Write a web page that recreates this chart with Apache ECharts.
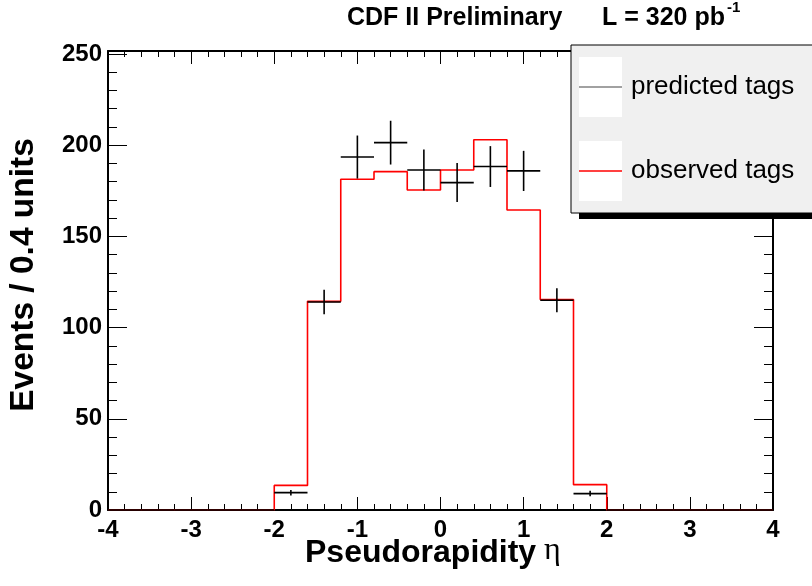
<!DOCTYPE html>
<html><head><meta charset="utf-8">
<script src="https://cdn.jsdelivr.net/npm/echarts@6/dist/echarts.min.js"></script>
<style>html,body{margin:0;padding:0;background:#fff}#c{width:812px;height:586px}</style>
</head><body><div id="c"></div>
<script>
// ---- data ----
const binLow = -4;
const binWidth = 0.4;
const observedTags = [0,0,0,0,0, 13.5,114.4,181.3,185.5,175.4,186.4,203,164.5,115.4,13.9, 0,0,0,0,0];
const predictedTags = [0,0,0,0,0, 9.5,114,193.5,201.4,186.4,179.5,188.3,185.9,115,9, 0,0,0,0,0];
const predictedErr = [0,0,0,0,0, 1.5,6.7,11.8,12,11.2,10.7,11.2,11,6.6,1.5, 0,0,0,0,0];
const xTickLabels = [-4,-3,-2,-1,0,1,2,3,4];
const yTickLabels = [0,50,100,150,200,250];
const legendNames = ['predicted tags','observed tags'];

const FONT = 'Liberation Sans, Arial, sans-serif';

// step outline for observed histogram
const obsLine = [];
observedTags.forEach((v,i)=>{
  const lo = binLow + i*binWidth, hi = lo + binWidth;
  obsLine.push([lo, v]); obsLine.push([hi, v]);
});
const predData = predictedTags.map((v,i)=>[binLow + (i+0.5)*binWidth, v, predictedErr[i]]);

const chart = echarts.init(document.getElementById('c'), null, {renderer:'canvas'});
const frameLine = {show:true, onZero:false, lineStyle:{color:'#000', width:2}};
chart.setOption({
  animation:false,
  backgroundColor:'#fff',
  grid:[
    {left:108, top:51, width:665, height:459, show:false},
    {left:108, top:54, width:665, height:456, show:false}
  ],
  xAxis:[
    {gridIndex:0, type:'value', position:'top', min:xTickLabels[0], max:xTickLabels[xTickLabels.length-1], interval:1,
     axisLine:frameLine, axisLabel:{show:false}, splitLine:{show:false},
     axisTick:{show:true, inside:true, length:13, lineStyle:{color:'#000',width:1}},
     minorTick:{show:true, splitNumber:5, length:6, lineStyle:{color:'#000',width:1}}},
    {gridIndex:1, type:'value', position:'bottom', min:xTickLabels[0], max:xTickLabels[xTickLabels.length-1], interval:1,
     axisLine:frameLine, splitLine:{show:false},
     axisLabel:{show:true, color:'#000', fontFamily:FONT, fontWeight:'bold', fontSize:24, margin:8},
     axisTick:{show:true, inside:true, length:13, lineStyle:{color:'#000',width:1}},
     minorTick:{show:true, splitNumber:5, length:6, lineStyle:{color:'#000',width:1}}}
  ],
  yAxis:[
    {gridIndex:0, type:'value', position:'left', min:0, max:252, axisLine:frameLine,
     axisLabel:{show:false}, axisTick:{show:false}, splitLine:{show:false}},
    {gridIndex:1, type:'value', position:'left', min:yTickLabels[0], max:yTickLabels[yTickLabels.length-1], interval:50,
     axisLine:{show:false, onZero:false}, splitLine:{show:false},
     axisLabel:{show:true, color:'#000', fontFamily:FONT, fontWeight:'bold', fontSize:24, margin:6},
     axisTick:{show:true, inside:true, length:19, lineStyle:{color:'#000',width:1}},
     minorTick:{show:true, splitNumber:5, length:9, lineStyle:{color:'#000',width:1}}},
    {gridIndex:1, type:'value', position:'right', min:yTickLabels[0], max:yTickLabels[yTickLabels.length-1], interval:50,
     axisLine:frameLine, splitLine:{show:false}, axisLabel:{show:false},
     axisTick:{show:true, inside:true, length:19, lineStyle:{color:'#000',width:1}},
     minorTick:{show:true, splitNumber:5, length:9, lineStyle:{color:'#000',width:1}}}
  ],
  series:[
    {name:legendNames[1], type:'line', xAxisIndex:1, yAxisIndex:1, data:obsLine, showSymbol:false, symbol:'none',
     lineStyle:{color:'#ff0000', width:1.6}, z:3},
    {name:legendNames[0], type:'custom', xAxisIndex:1, yAxisIndex:1, data:predData, z:4,
     renderItem:function(params, api){
       const c = api.value(0), v = api.value(1), e = api.value(2);
       const pL = api.coord([c - binWidth/2, v]);
       const pR = api.coord([c + binWidth/2, v]);
       const pT = api.coord([c, v + e]);
       const pB = api.coord([c, v - e]);
       const st = {stroke:'#000', lineWidth:1.6};
       const children = [{type:'line', shape:{x1:pL[0],y1:pL[1],x2:pR[0],y2:pR[1]}, style:st}];
       if (e > 0) children.push({type:'line', shape:{x1:pT[0],y1:pT[1],x2:pB[0],y2:pB[1]}, style:st});
       return {type:'group', children:children};
     }}
  ],
  graphic:[
    // title
    {type:'text', left:347, top:6, style:{text:'CDF II Preliminary', font:'bold 25px '+FONT, fill:'#000'}},
    {type:'text', left:602, top:6, style:{text:'L = 320 pb', font:'bold 25px '+FONT, fill:'#000'}},
    {type:'text', left:727, top:0, style:{text:'-1', font:'bold 15px '+FONT, fill:'#000'}},
    // axis titles
    {type:'text', x:24, y:275, rotation:Math.PI/2,
     style:{text:'Events / 0.4 units', font:'bold 33.5px '+FONT, fill:'#000', align:'center', verticalAlign:'middle'}},
    {type:'text', x:305, y:553,
     style:{text:'Pseudorapidity', font:'bold 32px '+FONT, fill:'#000', align:'left', verticalAlign:'middle'}},
    {type:'text', x:544, y:551,
     style:{text:'η', font:'32px Liberation Serif, DejaVu Serif, serif', fill:'#000', align:'left', verticalAlign:'middle'}},
    // legend
    {type:'rect', shape:{x:579, y:213, width:260, height:6}, style:{fill:'#000'}, z:10},
    {type:'rect', shape:{x:571, y:45, width:260, height:168}, style:{fill:'#f0f0f0', stroke:'#000', lineWidth:1}, z:11},
    {type:'rect', shape:{x:579, y:57, width:43, height:60}, style:{fill:'#fff'}, z:12},
    {type:'rect', shape:{x:579, y:141, width:43, height:60}, style:{fill:'#fff'}, z:12},
    {type:'line', shape:{x1:579, y1:87, x2:622, y2:87}, style:{stroke:'#444', lineWidth:1.2}, z:13},
    {type:'line', shape:{x1:579, y1:171, x2:622, y2:171}, style:{stroke:'#ff0000', lineWidth:1.5}, z:13},
    {type:'text', x:631, y:87, z:13, style:{text:legendNames[0], font:'26px '+FONT, fill:'#000', verticalAlign:'middle'}},
    {type:'text', x:631, y:171, z:13, style:{text:legendNames[1], font:'26px '+FONT, fill:'#000', verticalAlign:'middle'}}
  ]
});
</script></body></html>
